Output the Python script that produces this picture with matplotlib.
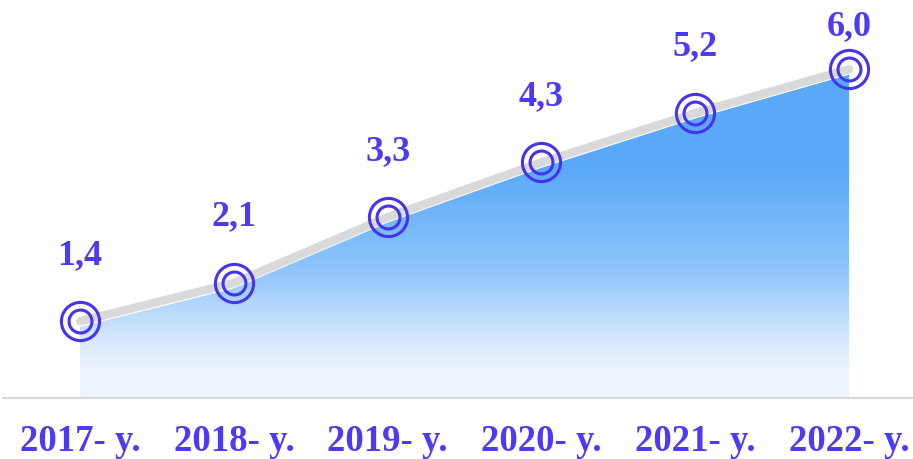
import matplotlib.pyplot as plt
import numpy as np
from matplotlib.colors import LinearSegmentedColormap
from matplotlib.patches import Polygon
import matplotlib.transforms as mtransforms

years = ['2017- y.', '2018- y.', '2019- y.', '2020- y.', '2021- y.', '2022- y.']
values = [1.4, 2.1, 3.3, 4.3, 5.2, 6.0]
value_labels = ['1,4', '2,1', '3,3', '4,3', '5,2', '6,0']

text_color = '#4c3af4'
ring_color = '#4534ee'
line_grey = '#d9d9d9'

plt.rcParams['font.family'] = ['Liberation Serif', 'DejaVu Serif']

fig = plt.figure(figsize=(9.13, 4.59), dpi=100)
ax = fig.add_axes([0.003, 61 / 459, 0.997, 398 / 459])

x = np.arange(len(values))
ymax = 398 / 54.8
xlim = (-0.503, 5.416)

# gradient area
stops = [(0.0, '#eef5fe'), (0.5 / ymax, '#ecf4fe'), (1.06 / ymax, '#d4e8fd'),
         (2.34 / ymax, '#8fc5fb'), (4.16 / ymax, '#5aaaf8'), (1.0, '#58a9f8')]
cmap = LinearSegmentedColormap.from_list('area', stops)
grad = np.linspace(0, 1, 400).reshape(-1, 1)
img = ax.imshow(grad, cmap=cmap, origin='lower', aspect='auto',
                extent=[x[0], x[-1], 0, ymax], zorder=1)
verts = [(x[0], 0)] + list(zip(x, np.array(values) - 0.1)) + [(x[-1], 0)]
poly = Polygon(verts, closed=True, facecolor='none', edgecolor='none')
ax.add_patch(poly)
img.set_clip_path(poly)
ax.set_xlim(*xlim)
ax.set_ylim(0, ymax)

# grey line
ax.plot(x, values, color=line_grey, lw=6, solid_capstyle='round', zorder=2)

# double ring markers
ax.plot(x, values, ls='none', marker='o', ms=27.5, mfc='none', mec=ring_color,
        mew=2.2, zorder=3, clip_on=False)
ax.plot(x, values, ls='none', marker='o', ms=16.5, mfc='none', mec=ring_color,
        mew=2.2, zorder=3, clip_on=False)

# value labels
fig.canvas.draw()
for xi, v, lab in zip(x, values, value_labels):
    px, py = ax.transData.transform((xi, v))
    ty = min(py + 66, 459 - 27)
    ax.text(px, ty, lab, transform=mtransforms.IdentityTransform(),
            ha='center', va='center', fontsize=26, fontweight='bold',
            color=text_color, zorder=4)

# x labels
ax.set_xticks(x)
ax.set_xticklabels(years, fontsize=26.5, fontweight='bold', color=text_color)
ax.tick_params(axis='x', length=0, pad=19)
ax.set_yticks([])
for s in ['top', 'left', 'right']:
    ax.spines[s].set_visible(False)
ax.spines['bottom'].set_color(line_grey)
ax.spines['bottom'].set_linewidth(1.5)

fig.savefig('out.png', dpi=100)
